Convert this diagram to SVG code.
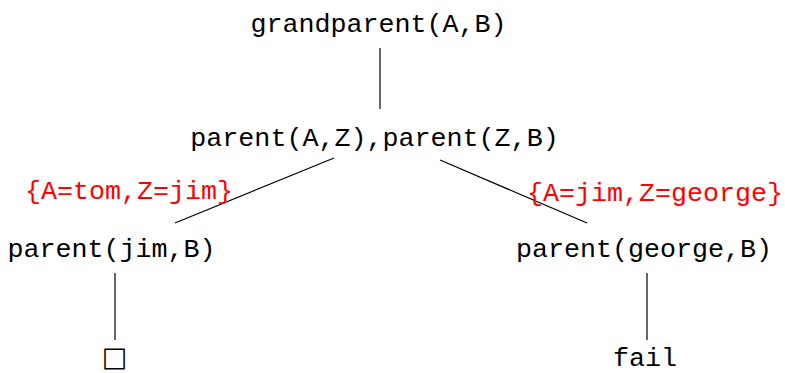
<svg xmlns="http://www.w3.org/2000/svg" width="785" height="373" viewBox="0 0 785 373">
<style>
.t{font-family:"Liberation Mono","DejaVu Sans Mono",monospace;font-size:26.7px;fill:#000;text-anchor:middle}
.r{fill:#ff0000}
.e{stroke:#000;stroke-width:1.2;fill:none}
</style>
<rect width="785" height="373" fill="#fff"/>
<g id="connectors">
<line class="e" x1="380" y1="48" x2="380" y2="109"/>
<line class="e" x1="334" y1="158" x2="175" y2="223"/>
<line class="e" x1="440" y1="160" x2="587" y2="223"/>
<line class="e" x1="115" y1="273" x2="115" y2="340"/>
<line class="e" x1="647" y1="273" x2="647" y2="340"/>
</g>
<g id="n-root"><text class="t" x="378.5" y="32">grandparent(A,B)</text></g>
<g id="n-goal"><text class="t" x="374.5" y="146">parent(A,Z),parent(Z,B)</text></g>
<g id="lbl-left"><text class="t r" x="129" y="199">{A=tom,Z=jim}</text></g>
<g id="lbl-right"><text class="t r" x="655" y="201">{A=jim,Z=george}</text></g>
<g id="n-left"><text class="t" x="111.5" y="257">parent(jim,B)</text></g>
<g id="n-right"><text class="t" x="644" y="257">parent(george,B)</text></g>
<g id="n-success"><text x="114.5" y="366" style="font-family:'DejaVu Sans',sans-serif;font-size:27px;text-anchor:middle">□</text></g>
<g id="n-fail"><text class="t" x="645" y="366">fail</text></g>
</svg>
